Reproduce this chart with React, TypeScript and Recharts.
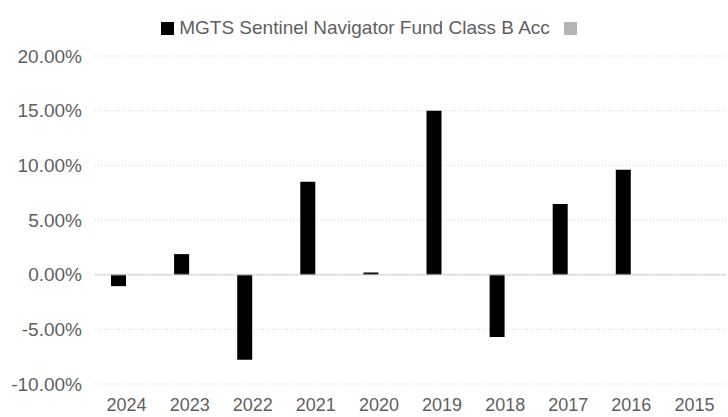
import { BarChart, Bar, XAxis, YAxis, CartesianGrid, ReferenceLine } from "recharts";

// Calendar year returns
const years = ["2024", "2023", "2022", "2021", "2020", "2019", "2018", "2017", "2016", "2015"];
const fundReturns = [-1.05, 1.88, -7.78, 8.5, 0.2, 15.0, -5.7, 6.47, 9.59, null];
const benchmarkReturns = [null, null, null, null, null, null, null, null, null, null];
const seriesNames = ["MGTS Sentinel Navigator Fund Class B Acc", ""];
const seriesColors = ["#000000", "#b3b3b3"];
const yTicks = [-10, -5, 0, 5, 10, 15, 20];

const data = years.map((year, i) => ({
  year,
  fund: fundReturns[i],
  benchmark: benchmarkReturns[i],
}));

const font = "Arial, 'Liberation Sans', sans-serif";
const textColor = "#5f5f5f";

function LegendRow() {
  return (
    <div
      style={{
        position: "absolute",
        top: 17,
        left: 0,
        width: 728,
        display: "flex",
        justifyContent: "center",
        alignItems: "center",
        fontFamily: font,
        fontSize: 19,
        color: textColor,
        paddingLeft: 10,
        boxSizing: "border-box",
      }}
    >
      {seriesNames.map((name, i) => (
        <div key={i} style={{ display: "flex", alignItems: "center", marginRight: i === 0 ? 14 : 0 }}>
          <span style={{ width: 13, height: 13, background: seriesColors[i], display: "inline-block" }} />
          {name && <span style={{ marginLeft: 5, lineHeight: "22px" }}>{name}</span>}
        </div>
      ))}
    </div>
  );
}

export default function App() {
  return (
    <div style={{ position: "absolute", left: 0, top: 0, width: 728, height: 417, background: "#fff" }}>
      <LegendRow />
      <BarChart
        width={728}
        height={417}
        data={data}
        margin={{ top: 56, right: 2, left: 0, bottom: 0 }}
        barGap={2}
      >
        <CartesianGrid vertical={false} stroke="#d6d6d6" strokeDasharray="1 2" />
        <XAxis
          dataKey="year"
          axisLine={false}
          tickLine={false}
          tickSize={0}
          tickMargin={14}
          height={33}
          interval={0}
          tick={{ fontSize: 18, fill: textColor, fontFamily: font }}
        />
        <YAxis
          domain={[-10, 20]}
          ticks={yTicks}
          width={95}
          axisLine={false}
          tickLine={false}
          tickSize={0}
          tickMargin={13}
          tickFormatter={(v: number) => `${v.toFixed(2)}%`}
          tick={{ fontSize: 19, fill: textColor, fontFamily: font }}
        />
        <Bar dataKey="fund" name={seriesNames[0]} fill={seriesColors[0]} barSize={15} isAnimationActive={false} />
        <Bar dataKey="benchmark" name={seriesNames[1]} fill={seriesColors[1]} barSize={15} isAnimationActive={false} />
        <ReferenceLine y={0} stroke="#cccccc" strokeOpacity={0.5} strokeWidth={2} />
      </BarChart>
    </div>
  );
}
